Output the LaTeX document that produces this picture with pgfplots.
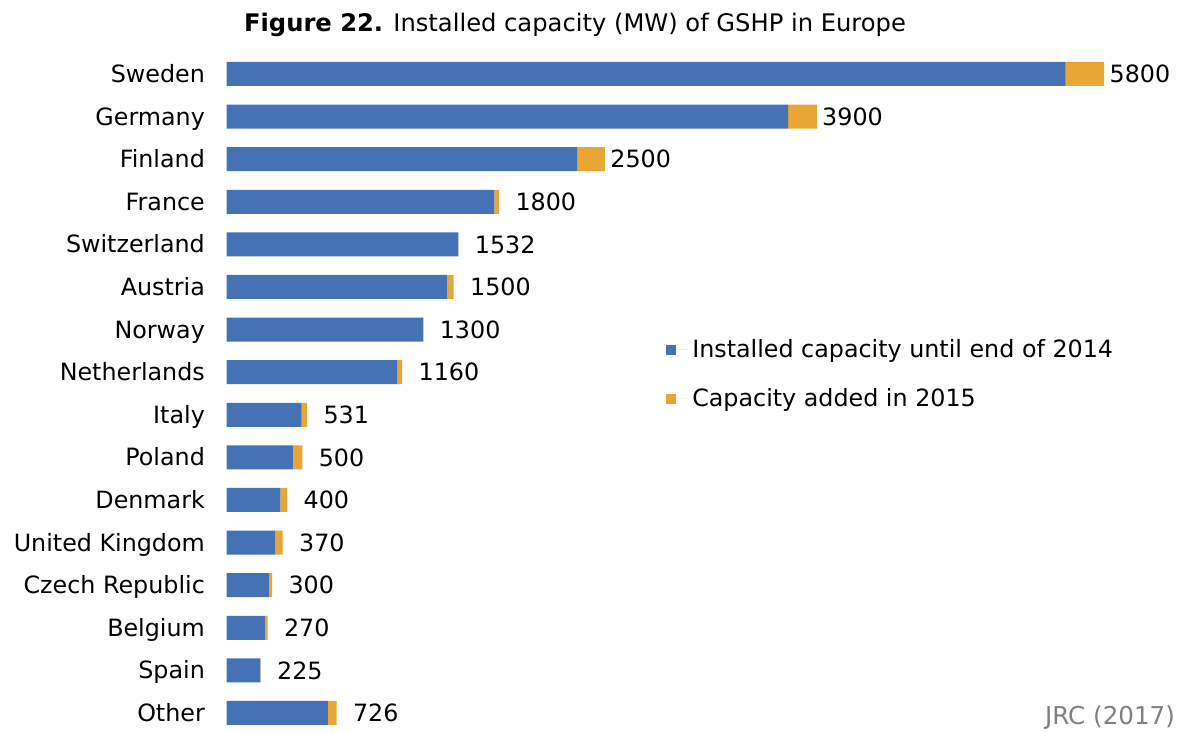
\documentclass[border=0pt]{standalone}
\usepackage{pgfplots}
\usepackage{pgfplotstable}
\pgfplotsset{compat=1.18}
\usepackage{fontspec}
\setmainfont{DejaVu Sans}
\definecolor{cblue}{RGB}{68,114,181}
\definecolor{corange}{RGB}{233,165,54}
\definecolor{cgray}{RGB}{128,128,128}
\pgfplotstableread{
idx base add total
15 5545 255 5800
14 3710 190 3900
13 2317 183 2500
12 1769 31 1800
11 1532 0 1532
10 1456 44 1500
9 1300 0 1300
8 1126 34 1160
7 496 35 531
6 438 62 500
5 354 46 400
4 321 49 370
3 278 22 300
2 253 17 270
1 222 3 225
0 668 58 726
}\datatable
\pgfplotstableread{
idx total
15 5800
14 3900
13 2500
}\labelsbig
\pgfplotstableread{
idx total
12 1800
11 1532
10 1500
9 1300
8 1160
7 531
6 500
5 400
4 370
3 300
2 270
1 225
0 726
}\labelsrest
\begin{document}
\begin{tikzpicture}[font=\fontsize{11.9}{14}\selectfont]
\useasboundingbox (0,0) rectangle (594pt,366.5pt);
\pgfplotsset{common/.style={
  at={(113.35pt,-0.65pt)}, anchor=south west,
  scale only axis, width=453.9pt, height=340.8pt,
  xmin=0, xmax=6000, ymin=-0.5, ymax=15.5,
  axis line style={draw=none}}}
\begin{axis}[common,
  xbar stacked, bar width=12pt,
  xtick=\empty,
  ytick={0,...,15},
  yticklabels={Other,Spain,Belgium,Czech Republic,United Kingdom,Denmark,Poland,Italy,Netherlands,Norway,Austria,Switzerland,France,Finland,Germany,Sweden},
  typeset ticklabels with strut,
  major tick length=0pt,
  ytick style={draw=none},
  yticklabel style={xshift=-7.4pt, yshift=-1.5pt},
  legend style={draw=none, fill=none, at={(axis cs:2863,7.95)}, anchor=west,
    legend cell align=left, row sep=10pt},
  legend image code/.code={\fill[#1] (0pt,-2.5pt) rectangle (5pt,2.5pt); \path (0pt,0pt) -- (11pt,0pt);},
]
\addplot[fill=cblue, draw=none] table[x=base, y=idx] {\datatable};
\addlegendentry{Installed capacity until end of 2014}
\addplot[fill=corange, draw=none] table[x=add, y=idx] {\datatable};
\addlegendentry{Capacity added in 2015}
\end{axis}
\begin{axis}[common, xtick=\empty, ytick=\empty]
\addplot[only marks, mark=none, point meta=explicit symbolic, nodes near coords,
  every node near coord/.append style={anchor=west, xshift=-0.8pt, text=black}]
  table[x=total, y=idx, meta=total] {\labelsbig};
\addplot[only marks, mark=none, point meta=explicit symbolic, nodes near coords,
  every node near coord/.append style={anchor=west, xshift=4.7pt, text=black}]
  table[x=total, y=idx, meta=total] {\labelsrest};
\end{axis}
\node at (287.5pt,354pt) {\fontsize{12.1}{14}\selectfont\textbf{Figure 22.} Installed capacity (MW) of GSHP in Europe};
\node[text=cgray] at (555pt,7.5pt) {\fontsize{12.3}{14}\selectfont JRC (2017)};
\end{tikzpicture}
\end{document}
